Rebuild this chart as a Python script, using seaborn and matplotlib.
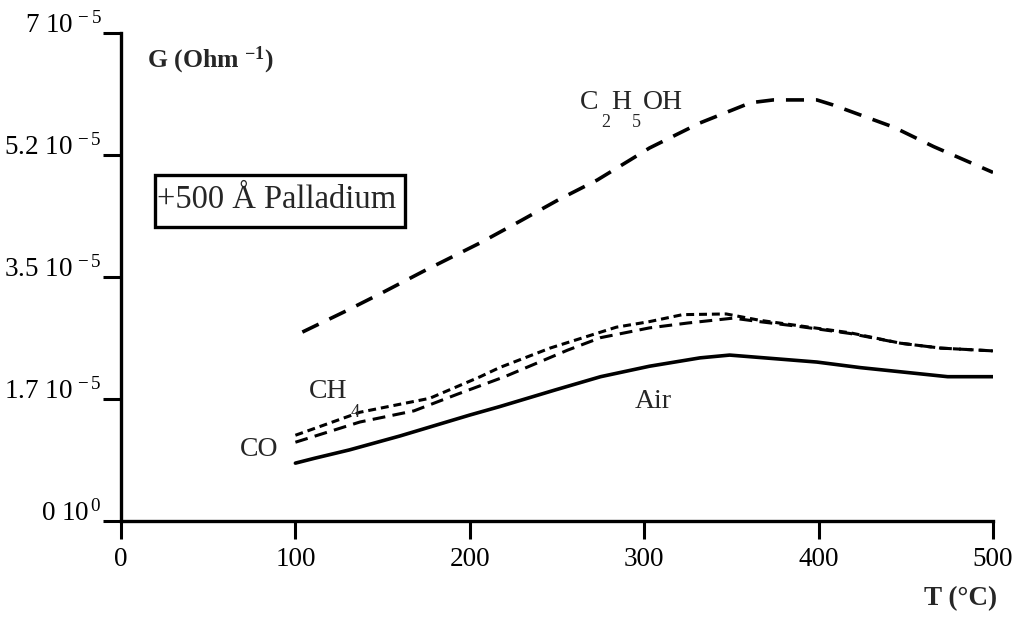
import matplotlib.pyplot as plt
import matplotlib.patches as mpatches
import seaborn as sns

# Datos: T en °C, G en unidades de 1e-5 Ohm^-1
t_air = [100, 111, 131, 160, 200, 217, 249, 275, 303, 332, 349, 399, 424, 474, 500]
g_air = [0.83, 0.90, 1.02, 1.22, 1.52, 1.64, 1.88, 2.07, 2.22, 2.34, 2.38, 2.28, 2.20, 2.07, 2.07]

t_ch4 = [100, 137, 177, 206, 217, 246, 284, 303, 322, 347, 366, 389, 418, 447, 470, 500]
g_ch4 = [1.23, 1.56, 1.76, 2.07, 2.20, 2.48, 2.78, 2.86, 2.96, 2.97, 2.88, 2.80, 2.70, 2.55, 2.48, 2.44]

t_co = [100, 137, 168, 193, 220, 256, 275, 303, 325, 351, 366, 389, 418, 447, 470, 500]
g_co = [1.13, 1.42, 1.58, 1.82, 2.07, 2.45, 2.63, 2.77, 2.84, 2.91, 2.86, 2.79, 2.69, 2.55, 2.48, 2.44]

t_eth = [104, 128, 151, 174, 206, 228, 251, 273, 292, 303, 332, 361, 374, 399, 408, 443, 466, 500]
g_eth = [2.71, 3.00, 3.29, 3.59, 3.99, 4.29, 4.61, 4.89, 5.18, 5.35, 5.71, 6.00, 6.04, 6.04, 5.97, 5.65, 5.37, 5.00]

x_ticks = [0, 100, 200, 300, 400, 500]
y_ticks = [0, 1.75, 3.5, 5.25, 7]
y_labels = [r"0 10$^{\,0}$", r"1.7 10$^{\,-5}$", r"3.5 10$^{\,-5}$", r"5.2 10$^{\,-5}$", r"7 10$^{\,-5}$"]

# Estilo
sns.set_style("ticks")
plt.rcParams["font.family"] = ["Liberation Serif", "DejaVu Serif"]
plt.rcParams["mathtext.fontset"] = "custom"
plt.rcParams["mathtext.rm"] = "Liberation Serif"
plt.rcParams["mathtext.bf"] = "Liberation Serif:bold"
plt.rcParams["mathtext.it"] = "Liberation Serif:italic"

W, H = 1016, 621
fig = plt.figure(figsize=(W / 100, H / 100), dpi=100)
ax = fig.add_axes([121 / W, 1 - 521 / H, (993 - 121) / W, (521 - 33) / H])

series = [
    (t_eth, g_eth, 2.6, (0, (5, 3.3))),
    (t_ch4, g_ch4, 2.2, (0, (2.6, 1.6))),
    (t_co, g_co, 2.2, (0, (4.2, 2.4))),
    (t_air, g_air, 2.6, "-"),
]
for t, g, lw, ls in series:
    sns.lineplot(x=t, y=g, ax=ax, color="black", linewidth=lw, linestyle=ls,
                 sort=False, estimator=None)

ax.set_xlim(0, 500)
ax.set_ylim(0, 7)
ax.set_xticks(x_ticks)
ax.set_yticks(y_ticks)
ax.set_yticklabels(y_labels)
for lab in ax.get_yticklabels():
    lab.set_verticalalignment("baseline")
ax.tick_params(direction="out", length=13, width=2.2, labelsize=19.5, colors="black")
ax.tick_params(axis="x", pad=6)
ax.tick_params(axis="y", pad=1)
ax.set_xlabel("")
ax.set_ylabel("")
sns.despine(ax=ax)
for side in ["left", "bottom"]:
    ax.spines[side].set_linewidth(2.4)
    ax.spines[side].set_color("black")


def ftext(px, py, s, **kw):
    fig.text(px / W, 1 - py / H, s, va="baseline", **kw)


# Etiquetas de ejes
ftext(147, 67, r"G (Ohm $^{\mathbf{-1}}$)", fontsize=18.5, fontweight="bold")
ftext(997, 605, "T (°C)", fontsize=19.5, fontweight="bold", ha="right")

# Etiquetas de curvas
ftext(580, 109, "C", fontsize=20)
ftext(601, 127, "2", fontsize=13)
ftext(611, 109, "H", fontsize=20)
ftext(632, 127, "5", fontsize=13)
ftext(643, 109, "OH", fontsize=20)
ftext(309, 398, "CH", fontsize=20)
ftext(351, 417, "4", fontsize=13)
ftext(240, 456, "CO", fontsize=20)
ftext(635, 408, "Air", fontsize=20)

# Recuadro
fig.patches.append(mpatches.Rectangle((155 / W, 1 - 227 / H), 250 / W, 52 / H,
                                      transform=fig.transFigure, fill=False,
                                      edgecolor="black", linewidth=2.4))
ftext(157, 208, "+500 Å Palladium", fontsize=23.5)

fig.savefig("out.png", dpi=100)
